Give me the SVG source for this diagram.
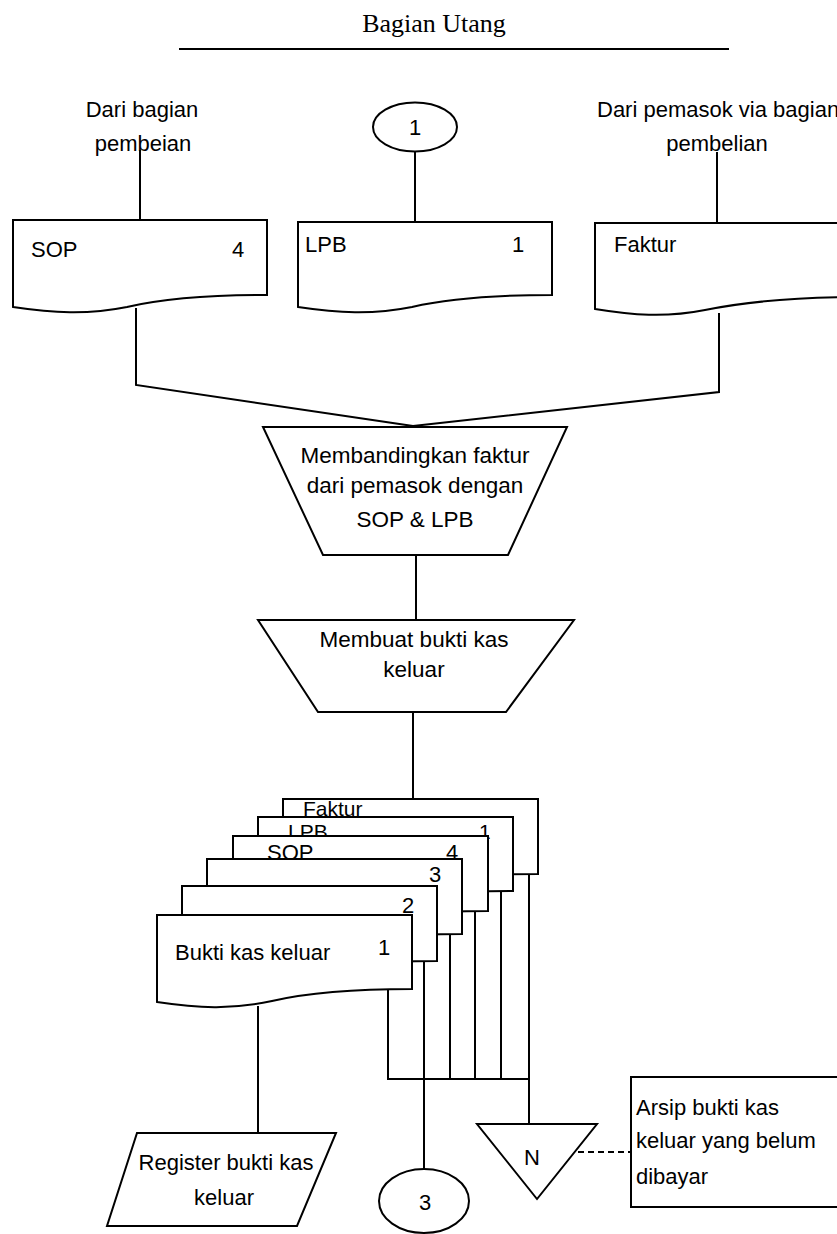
<svg xmlns="http://www.w3.org/2000/svg" width="837" height="1234" viewBox="0 0 837 1234">
<style>
  .s { fill: #fff; stroke: #000; stroke-width: 2; }
  .l { fill: none; stroke: #000; stroke-width: 2; }
  .d { fill: none; stroke: #000; stroke-width: 2; stroke-dasharray: 6 4; }
  text { font-family: "Liberation Sans", Arial, sans-serif; font-size: 22px; fill: #000; }
  .c { text-anchor: middle; }
  .p { font-size: 22.5px; }
  .k { font-size: 21px; }
  .title { font-family: "Liberation Serif", "Times New Roman", serif; font-size: 26px; }
</style>
<rect width="837" height="1234" fill="#fff"/>

<g id="header">
  <text class="title c" x="434" y="32">Bagian Utang</text>
  <line class="l" x1="179" y1="49" x2="729" y2="49"/>
</g>

<g id="label-dari-bagian">
  <text class="c" x="142" y="117">Dari bagian</text>
  <text class="c" x="143" y="151">pembeian</text>
</g>
<g id="label-dari-pemasok">
  <text x="597" y="117">Dari pemasok via bagian</text>
  <text class="c" x="717" y="151">pembelian</text>
</g>

<g id="connectors">
  <line class="l" x1="140" y1="150" x2="140" y2="220"/>
  <line class="l" x1="415" y1="151" x2="415" y2="222"/>
  <line class="l" x1="717" y1="152" x2="717" y2="223"/>
  <polyline class="l" points="136,308 136,385 413,426"/>
  <polyline class="l" points="719,313 719,392 413,426"/>
  <line class="l" x1="416" y1="555" x2="416" y2="620"/>
  <line class="l" x1="413" y1="712" x2="413" y2="799"/>
  <line class="l" x1="258" y1="1006" x2="258" y2="1133"/>
  <polyline class="l" points="388,989 388,1079 529,1079"/>
  <line class="l" x1="424" y1="961" x2="424" y2="1169"/>
  <line class="l" x1="450" y1="934" x2="450" y2="1079"/>
  <line class="l" x1="475" y1="911" x2="475" y2="1079"/>
  <line class="l" x1="501" y1="891" x2="501" y2="1079"/>
  <line class="l" x1="529" y1="874" x2="529" y2="1124"/>
  <line class="d" x1="578" y1="1152" x2="631" y2="1152"/>
</g>

<g id="connector-1-top">
  <ellipse class="s" cx="415" cy="127" rx="42" ry="24.5"/>
  <text class="c" x="415" y="135">1</text>
</g>

<g id="doc-sop">
  <path class="s" d="M13,220 H267 V295 C207,295 157,300 127,307 C87,315 53,313 13,307 Z"/>
  <text x="31" y="257">SOP</text>
  <text x="232" y="257">4</text>
</g>
<g id="doc-lpb">
  <path class="s" d="M298,222 H552 V295 C492,295 442,300 412,307 C372,315 338,313 298,307 Z"/>
  <text x="305" y="252">LPB</text>
  <text x="512" y="252">1</text>
</g>
<g id="doc-faktur">
  <path class="s" d="M595,223 H860 V297 C790,297 740,303 705,310 C665,318 632,315 595,309 Z"/>
  <text x="614" y="252">Faktur</text>
</g>

<g id="proc-membandingkan">
  <polygon class="s" points="263,427 567,427 508,555 323,555"/>
  <text class="c p" x="415" y="463">Membandingkan faktur</text>
  <text class="c p" x="415" y="493">dari pemasok dengan</text>
  <text class="c p" x="415" y="527">SOP &amp; LPB</text>
</g>

<g id="proc-membuat">
  <polygon class="s" points="258,620 574,620 506,712 318,712"/>
  <text class="c p" x="414" y="647">Membuat bukti kas</text>
  <text class="c p" x="414" y="677">keluar</text>
</g>

<g id="doc-stack">
  <g id="doc6-faktur">
    <path class="s" d="M283,799 H538 V874 C478,874 428,879 398,886 C358,894 323,892 283,886 Z"/>
    <text class="k" x="303" y="816">Faktur</text>
  </g>
  <g id="doc5-lpb">
    <path class="s" d="M258,817 H513 V891 C453,891 403,896 373,903 C333,911 298,909 258,903 Z"/>
    <text class="k" x="288" y="839">LPB</text>
    <text class="k" x="479" y="839">1</text>
  </g>
  <g id="doc4-sop">
    <path class="s" d="M233,836 H488 V911 C428,911 378,916 348,923 C308,931 273,929 233,923 Z"/>
    <text x="267" y="860">SOP</text>
    <text x="446" y="860">4</text>
  </g>
  <g id="doc3">
    <path class="s" d="M207,859 H462 V934 C402,934 352,939 322,946 C282,954 247,952 207,946 Z"/>
    <text x="429" y="882">3</text>
  </g>
  <g id="doc2">
    <path class="s" d="M182,886 H437 V961 C377,961 327,966 297,973 C257,981 222,979 182,973 Z"/>
    <text x="402" y="913">2</text>
  </g>
  <g id="doc1-bukti">
    <path class="s" d="M157,915 H412 V989 C352,989 302,994 272,1001 C232,1010 197,1008 157,1002 Z"/>
    <text x="175" y="960">Bukti kas keluar</text>
    <text x="378" y="955">1</text>
  </g>
</g>

<g id="register">
  <polygon class="s" points="137,1133 336,1133 297,1226 107,1226"/>
  <text class="c" x="226" y="1170">Register bukti kas</text>
  <text class="c" x="224" y="1205">keluar</text>
</g>

<g id="connector-3">
  <ellipse class="s" cx="424" cy="1201" rx="45" ry="32"/>
  <text class="c" x="425" y="1210">3</text>
</g>

<g id="arsip-n">
  <polygon class="s" points="477,1124 597,1124 537,1199"/>
  <text class="c" x="532" y="1165">N</text>
</g>

<g id="note-arsip">
  <rect class="s" x="631" y="1077" width="230" height="130"/>
  <text x="636" y="1115">Arsip bukti kas</text>
  <text x="636" y="1148">keluar yang belum</text>
  <text x="636" y="1184">dibayar</text>
</g>
</svg>
